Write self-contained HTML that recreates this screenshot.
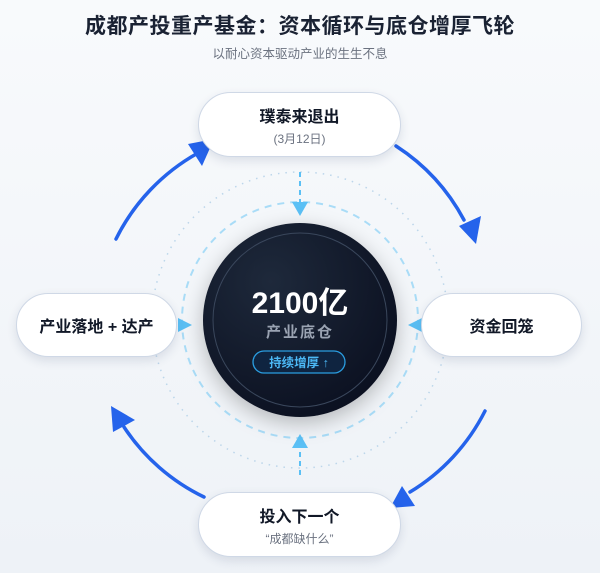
<!DOCTYPE html>
<html><head><meta charset="utf-8"><style>
*{margin:0;padding:0;box-sizing:border-box}
body{width:600px;height:573px;overflow:hidden;background:linear-gradient(#f8fafc,#eef2f7);font-family:"Liberation Sans","Noto Sans CJK SC",sans-serif;position:relative}
.t{position:absolute;left:0;width:600px;text-align:center}
.node{position:absolute;background:#fff;border:1.5px solid #cfd8e6;border-radius:34px;box-shadow:0 4px 10px rgba(30,50,90,.12);text-align:center;display:flex;flex-direction:column;justify-content:center;align-items:center}
.n1{font-size:16px;font-weight:700;color:#111827}
.n2{font-size:12px;color:#6b7280;margin-top:3px}
</style></head><body>
<div class="t" style="top:10px;font-size:21px;font-weight:700;color:#1a2233;letter-spacing:.5px">成都产投重产基金：资本循环与底仓增厚飞轮</div>
<div class="t" style="top:43px;font-size:12.5px;color:#6b7280">以耐心资本驱动产业的生生不息</div>
<svg width="600" height="573" style="position:absolute;left:0;top:0">
<defs><radialGradient id="g" cx="35%" cy="30%" r="80%"><stop offset="0" stop-color="#1e293b"/><stop offset="1" stop-color="#0a0f1f"/></radialGradient></defs>
<circle cx="300" cy="320" r="148" fill="none" stroke="#bcd6ea" stroke-width="1.5" stroke-dasharray="1.5 6"/>
<circle cx="300" cy="320" r="118" fill="none" stroke="#a9dcf7" stroke-width="2" stroke-dasharray="7 6"/>
<g stroke="#5bc0f5" stroke-width="2" stroke-dasharray="5 4">
<line x1="300" y1="172" x2="300" y2="203"/><line x1="300" y1="475" x2="300" y2="447"/></g>
<g fill="#5bc0f5">
<polygon points="292,202 308,202 300,216"/><polygon points="292,448 308,448 300,434"/>
<polygon points="178,318 178,332 192,325"/><polygon points="422,318 422,332 408,325"/></g>
<circle cx="300" cy="320" r="97" fill="url(#g)" style="filter:drop-shadow(0 6px 10px rgba(0,0,0,.25))"/>
<circle cx="300" cy="320" r="87" fill="none" stroke="#3a475c" stroke-width="1"/>
<g stroke="#2563eb" stroke-width="3.5" fill="none" stroke-linecap="round">
<path d="M116,239 A200,200 0 0 1 198,153"/>
<path d="M396,146 A200,200 0 0 1 464,220"/>
<path d="M485,411 A200,200 0 0 1 410,492"/>
<path d="M204,497 A200,200 0 0 1 124,427"/>
</g>
<g fill="#2563eb">
<polygon points="214,139 188,144 202,166"/>
<polygon points="476,244 459,226 481,216"/>
<polygon points="390,508 402,486 415,506"/>
<polygon points="111,406 113,432 135,420"/>
</g>
<text x="300" y="313" text-anchor="middle" font-size="30" font-weight="700" fill="#fff" font-family="Liberation Sans,Noto Sans CJK SC,sans-serif">2100亿</text>
<text x="300" y="337" text-anchor="middle" font-size="15" font-weight="700" fill="#9aa3b2" letter-spacing="2" font-family="Liberation Sans,Noto Sans CJK SC,sans-serif">产业底仓</text>
<rect x="253" y="351" width="92" height="22" rx="11" fill="#0f2440" stroke="#2a9de0" stroke-width="1.3"/>
<text x="299" y="367" text-anchor="middle" font-size="12.5" font-weight="700" fill="#4cb8f5" font-family="Liberation Sans,Noto Sans CJK SC,sans-serif">持续增厚 ↑</text>
</svg>
<div class="node" style="left:198px;top:92px;width:203px;height:65px"><div class="n1">璞泰来退出</div><div class="n2">(3月12日)</div></div>
<div class="node" style="left:16px;top:293px;width:161px;height:64px"><div class="n1">产业落地 + 达产</div></div>
<div class="node" style="left:421px;top:293px;width:161px;height:64px"><div class="n1">资金回笼</div></div>
<div class="node" style="left:198px;top:492px;width:203px;height:65px"><div class="n1">投入下一个</div><div class="n2">“成都缺什么”</div></div>
</body></html>
